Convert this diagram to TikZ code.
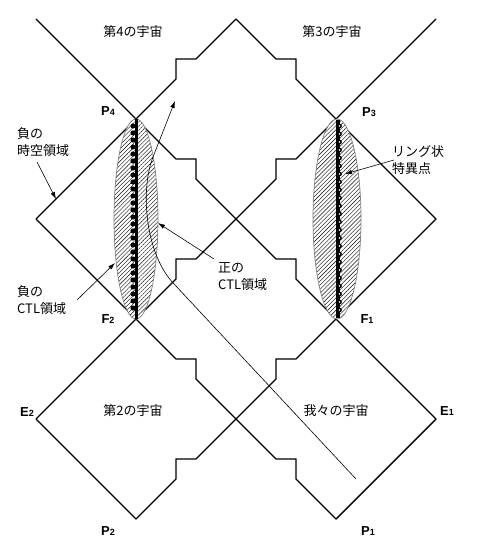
\documentclass[tikz,border=0pt]{standalone}
\usepackage{fontspec}
\newfontfamily\jpfont{Noto Sans CJK JP}
\newfontfamily\ptfont{Liberation Sans}
\usetikzlibrary{patterns.meta,arrows.meta}
\newcommand\ptlabel[2]{{\ptfont\bfseries\fontsize{13}{13}\selectfont #1{\fontsize{9}{9}\selectfont #2}}}
\begin{document}
\begin{tikzpicture}[x=1pt,y=-1pt,>={Latex[length=7pt,width=4.5pt]},
	wall/.style={line width=1.4pt,line join=miter},
	lens/.style={draw=gray,line width=0.7pt,preaction={fill=white},
		pattern={Lines[angle=45,distance=2.9pt,line width=0.4pt]}},
	lbl/.style={font=\jpfont\fontsize{13}{17}\selectfont,inner sep=0pt},
	pnt/.style={inner sep=0pt}]
	\useasboundingbox (0,0) rectangle (476,556);
	% corners of the diamonds
	\coordinate (TL) at (36,19);  \coordinate (T) at (236,19);  \coordinate (TR) at (436,19);
	\coordinate (P4) at (136,119); \coordinate (P3) at (336,119);
	\coordinate (L) at (36,219);  \coordinate (C) at (236,219); \coordinate (R) at (436,219);
	\coordinate (F2) at (136,319); \coordinate (F1) at (336,319);
	\coordinate (E2) at (36,419); \coordinate (B) at (236,419); \coordinate (E1) at (436,419);
	\coordinate (P2) at (136,519); \coordinate (P1) at (336,519);
	% plain edges
	\foreach \a/\b in {TL/P4,L/P4,L/F2,E2/F2,E2/P2,TR/P3,R/P3,R/F1,E1/F1,E1/P1}
		\draw[wall] (\a) -- (\b);
	% edges with a step
	\foreach \a/\b/\s in {T/P4/-1,T/P3/1,P4/C/1,P3/C/-1,C/F2/-1,C/F1/1,F2/B/1,F1/B/-1,B/P2/-1,B/P1/1}
		\draw[wall] (\a) -- ++(\s*40,40) -- ++(\s*20,0) -- ++(0,20) -- (\b);
	% CTL regions
	\draw[lens] (136,219) ellipse (22 and 100);
	\draw[lens] (337,219) ellipse (24 and 100);
	% ring singularities
	\draw[line width=3pt] (P4) -- (F2);
	\foreach \y in {126,133,...,313}
		\fill (133,\y) circle (2.6);
	\draw[line width=4.5pt] (338,120) -- (338,318);
	\foreach \y in {126,134,...,312}
		{
			\fill (339.5,\y) circle (2.4);
			\fill[white] (339.5,\y) circle (0.9);
		}
	% world line
	\coordinate (w0) at (356,479);
	\coordinate (w1) at (175,285);
	\coordinate (w2) at (153,157);
	\coordinate (w3) at (175,101);
	\draw[->,line width=0.6pt] (w0) -- (w1) .. controls (145,255) and (140,190) .. (w2) -- (w3);
	% labels
	\node[lbl] (u4) at (133,32) {第4の宇宙};
	\node[lbl] (u3) at (332,32) {第3の宇宙};
	\node[lbl] (u2) at (133,411) {第2の宇宙};
	\node[lbl] (u1) at (336,411) {我々の宇宙};
	\node[pnt] (lP4) at (108,111) {\ptlabel{P}{4}};
	\node[pnt] (lP3) at (369,112) {\ptlabel{P}{3}};
	\node[pnt] (lF2) at (108,319) {\ptlabel{F}{2}};
	\node[pnt] (lF1) at (367,319) {\ptlabel{F}{1}};
	\node[pnt] (lE2) at (27,412) {\ptlabel{E}{2}};
	\node[pnt] (lE1) at (447,411) {\ptlabel{E}{1}};
	\node[pnt] (lP2) at (108,531) {\ptlabel{P}{2}};
	\node[pnt] (lP1) at (368,531) {\ptlabel{P}{1}};
	\node[lbl,align=left,anchor=west] (negst) at (17,142) {負の\\時空領域};
	\node[lbl,align=left,anchor=west] (negctl) at (17,300) {負の\\CTL領域};
	\node[lbl,align=left,anchor=west] (posctl) at (218,277) {正の\\CTL領域};
	\node[lbl,align=left,anchor=west] (ring) at (392,160) {リング状\\特異点};
	% pointers
	\coordinate (sNeg) at (37,162); \coordinate (tNeg) at (56,199);
	\coordinate (sNc) at (77,300); \coordinate (tNc) at (115,263);
	\coordinate (sPc) at (214,259); \coordinate (tPc) at (158,223);
	\coordinate (sRg) at (394,160); \coordinate (tRg) at (345,174);
	\foreach \s/\t in {sNeg/tNeg,sNc/tNc,sPc/tPc,sRg/tRg}
		\draw[->,line width=0.6pt] (\s) -- (\t);
\end{tikzpicture}
\end{document}
